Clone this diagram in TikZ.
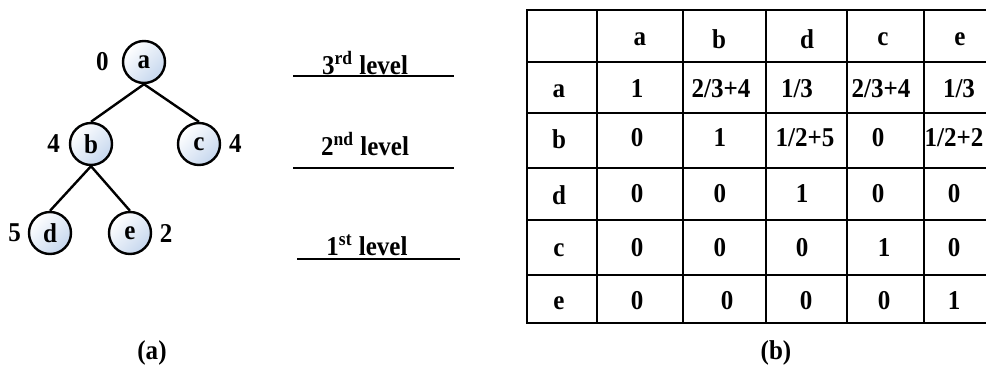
\documentclass[tikz,border=0pt]{standalone}
\usepackage{fontspec}
\setmainfont{Liberation Serif}[FakeStretch=0.92]
\usetikzlibrary{positioning}
\definecolor{trFill}{HTML}{C6D7EE}
\newcommand{\figfont}{\fontsize{13.6pt}{16pt}\selectfont\bfseries}
\tikzset{
  trnode/.style={
    draw, circle, line width=1.2pt, minimum size=21pt, inner sep=0pt,
    top color=white, bottom color=trFill, shading angle=45, font=\figfont
  },
  numlbl/.style={inner sep=0pt, font=\figfont},
  treeline/.style={line width=1.2pt},
  levelline/.style={line width=1.1pt},
  gridline/.style={line width=1.4pt, line cap=rect},
  cell/.style={inner sep=0pt, font=\figfont},
  caption/.style={inner sep=0pt, font=\figfont}
}

\begin{document}
\begin{tikzpicture}[x=0.5pt, y=-0.5pt]
  \useasboundingbox (0,0) rectangle (986,374);
  % (a) tree
  \node[trnode] (a) at (144,62) {a};
  \node[trnode] (b) at (91,144) {b};
  \node[trnode] (c) at (199,144) {c};
  \node[trnode] (d) at (50,233) {d};
  \node[trnode] (e) at (130,233) {e};
  \node[numlbl, left=6.4pt of a] (wa) {0};
  \node[numlbl, left=4.2pt of b] (wb) {4};
  \node[numlbl, right=3.8pt of c] (wc) {4};
  \node[numlbl, left=3.3pt of d] (wd) {5};
  \node[numlbl, right=3.6pt of e] (we) {2};
  \draw[treeline] (a.south) -- (b.north);
  \draw[treeline] (a.south) -- (c.north);
  \draw[treeline] (b.south) -- (d.north);
  \draw[treeline] (b.south) -- (e.north);
  % levels
  \node[numlbl] (lv3) at (365,63) {3\textsuperscript{rd} level};
  \node[numlbl] (lv2) at (365,144) {2\textsuperscript{nd} level};
  \node[numlbl] (lv1) at (367,245) {1\textsuperscript{st} level};
  \coordinate (l3w) at (293,76);  \coordinate (l3e) at (454,76);
  \coordinate (l2w) at (293,168); \coordinate (l2e) at (454,168);
  \coordinate (l1w) at (297,259); \coordinate (l1e) at (460,259);
  \draw[levelline] (l3w) -- (l3e);
  \draw[levelline] (l2w) -- (l2e);
  \draw[levelline] (l1w) -- (l1e);
  % (b) table
  \foreach \gx in {527,597,683,766,847,924}
    \draw[gridline] (\gx,10) -- (\gx,323);
  \foreach \gy in {10,62,113,168,220,275,323}
    \draw[gridline] (527,\gy) -- (986,\gy);
  \foreach \h [count=\c] in {a,b,d,c,e} {
    \pgfmathsetmacro{\cx}{{640,719,807,883,960}[\c-1]}
    \node[cell] (h-\c) at (\cx,39) {\h};
  }
  \foreach \h [count=\r] in {a,b,d,c,e} {
    \pgfmathsetmacro{\ry}{{91,139,195,250,303}[\r-1]}
    \node[cell] (r-\r) at (559,\ry) {\h};
  }
  \foreach \v [count=\c] in {1,{2/3+4},{1/3},{2/3+4},{1/3}} {
    \pgfmathsetmacro{\cx}{{637,721,797,881,959}[\c-1]}
    \node[cell] (c-1-\c) at (\cx,89) {\v};
  }
  \foreach \v [count=\c] in {0,1,{1/2+5},0,{1/2+2}} {
    \pgfmathsetmacro{\cx}{{637,720,805,878,954}[\c-1]}
    \node[cell] (c-2-\c) at (\cx,138) {\v};
  }
  \foreach \v [count=\c] in {0,0,1,0,0} {
    \pgfmathsetmacro{\cx}{{637,720,802,878,954}[\c-1]}
    \node[cell] (c-3-\c) at (\cx,194) {\v};
  }
  \foreach \v [count=\c] in {0,0,0,1,0} {
    \pgfmathsetmacro{\cx}{{637,720,802,884,954}[\c-1]}
    \node[cell] (c-4-\c) at (\cx,248) {\v};
  }
  \foreach \v [count=\c] in {0,0,0,0,1} {
    \pgfmathsetmacro{\cx}{{637,727,806,884,954}[\c-1]}
    \node[cell] (c-5-\c) at (\cx,301) {\v};
  }
  % captions
  \node[caption] (capa) at (152,353) {(a)};
  \node[caption] (capb) at (776,353) {(b)};
\end{tikzpicture}
\end{document}
